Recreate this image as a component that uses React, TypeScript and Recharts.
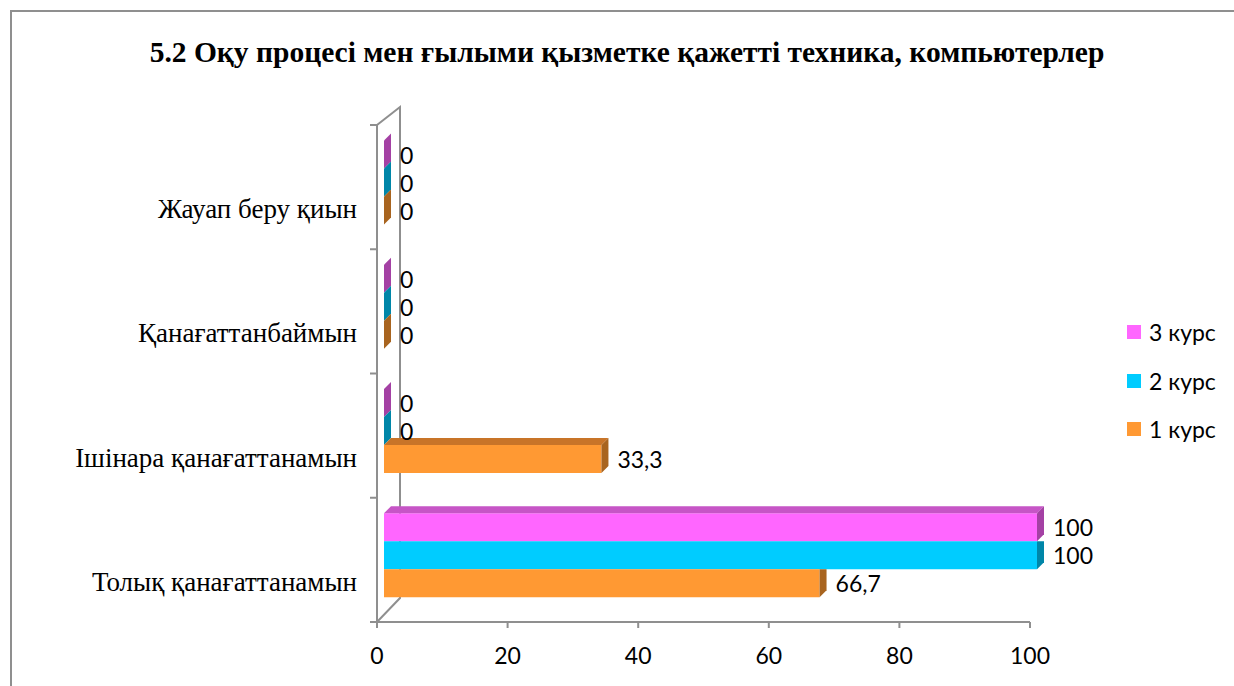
import { BarChart, Bar, XAxis, YAxis, LabelList, Customized } from 'recharts';

const categories = ['Жауап беру қиын', 'Қанағаттанбаймын', 'Ішінара қанағаттанамын', 'Толық қанағаттанамын'];
const kurs1 = [0, 0, 33.3, 66.7];
const kurs2 = [0, 0, 0, 100];
const kurs3 = [0, 0, 0, 100];
const xTicks = [0, 20, 40, 60, 80, 100];

const data = categories.map((name, i) => ({ name, k1: kurs1[i], k2: kurs2[i], k3: kurs3[i] }));

// top bar first (recharts puts the first series at the top of each band)
const series = [
  { key: 'k3', name: '3 курс', front: '#FF66FF', top: '#C655C6', side: '#A441A4', above: null },
  { key: 'k2', name: '2 курс', front: '#00CCFF', top: '#00A3CC', side: '#0086A8', above: 'k3' },
  { key: 'k1', name: '1 курс', front: '#FF9933', top: '#C87428', side: '#A8641F', above: 'k2' },
];

const W = 1234;
const H = 686;
const PLOT_L = 377;
const PLOT_R = 1030;
const PLOT_T = 125;
const PLOT_B = 622;
const AXIS_GREY = '#8f8f8f';

// 3d offsets
const DX = 7;
const DY = -5;
const D = 7;

const fmt = (v: number) => String(v).replace('.', ',');

function makeShape(s: any) {
  return (props: any) => {
    const { x, y, width, height, payload } = props;
    const value = payload[s.key];
    const w = Math.max(width || 0, 0);
    const fx = x + DX;
    const fy = y + DY;
    const x1 = fx + w;
    const perUnit = value > 0 ? w / value : 0;
    const aboveVal = s.above ? payload[s.above] : null;
    const covered = aboveVal != null && aboveVal >= value;
    const topStart = aboveVal == null ? fx : fx + Math.min(aboveVal * perUnit, w);
    return (
      <g>
        {w > 0 && <rect x={fx} y={fy} width={w} height={height} fill={s.front} />}
        {!covered && x1 - topStart > 0.5 && (
          <polygon
            points={`${topStart},${fy} ${topStart + D},${fy - D} ${x1 + D},${fy - D} ${x1},${fy}`}
            fill={s.top}
          />
        )}
        <polygon
          points={
            covered && value > 0
              ? `${x1},${fy} ${x1 + D},${fy} ${x1 + D},${fy + height - D} ${x1},${fy + height}`
              : `${x1},${fy} ${x1 + D},${fy - D} ${x1 + D},${fy + height - D} ${x1},${fy + height}`
          }
          fill={s.side}
        />
      </g>
    );
  };
}

const ValueLabel = (props: any) => {
  const { x, y, width, height, value } = props;
  return (
    <text
      x={x + Math.max(width || 0, 0) + DX + D + 9}
      y={y + DY + height / 2}
      fontSize={23}
      fontFamily="Lato"
      fill="#000"
      dominantBaseline="central"
    >
      {fmt(value)}
    </text>
  );
};

const CategoryTick = (props: any) => {
  const { x, y, payload } = props;
  return (
    <text x={x} y={y + 22} textAnchor="end" fontSize={27} fontFamily="Liberation Serif" fill="#000" dominantBaseline="central">
      {payload.value}
    </text>
  );
};

const Walls = () => {
  const band = (PLOT_B - PLOT_T) / categories.length;
  const bx = PLOT_L + 23;
  return (
    <g stroke={AXIS_GREY} strokeWidth={2} fill="none">
      <polygon points={`${PLOT_L},${PLOT_T} ${bx},${PLOT_T - 18} ${bx},${PLOT_B - 24} ${PLOT_L},${PLOT_B}`} fill="#fff" />
      {categories.map((_, i) => (
        <line key={i} x1={PLOT_L - 7} x2={PLOT_L} y1={PLOT_T + i * band} y2={PLOT_T + i * band} />
      ))}
      <line x1={PLOT_L - 7} x2={PLOT_L} y1={PLOT_B} y2={PLOT_B} />
    </g>
  );
};

export default function App() {
  return (
    <div style={{ position: 'absolute', left: 0, top: 0, width: W, height: H, background: '#fff', overflow: 'hidden' }}>
      <div
        style={{
          position: 'absolute',
          left: 10,
          top: 10,
          width: W,
          height: H,
          borderLeft: `2px solid ${AXIS_GREY}`,
          borderTop: `2px solid ${AXIS_GREY}`,
        }}
      />
      <div
        style={{
          position: 'absolute',
          left: 0,
          top: 36,
          width: W + 20,
          textAlign: 'center',
          fontFamily: 'Liberation Serif',
          fontWeight: 'bold',
          fontSize: 29.5,
          color: '#000',
        }}
      >
        5.2 Оқу процесі мен ғылыми қызметке қажетті техника, компьютерлер
      </div>
      <div style={{ position: 'absolute', left: 0, top: 0 }}>
        <BarChart
          width={W}
          height={H}
          data={data}
          layout="vertical"
          margin={{ top: PLOT_T, right: W - PLOT_R, bottom: H - PLOT_B - 50, left: 0 }}
          barCategoryGap="16.5%"
          barGap={0}
        >
          <Customized component={Walls} />
          <XAxis
            type="number"
            domain={[0, 100]}
            ticks={xTicks}
            height={50}
            axisLine={{ stroke: AXIS_GREY, strokeWidth: 2 }}
            tickLine={{ stroke: AXIS_GREY, strokeWidth: 2 }}
            tickSize={6}
            tickMargin={20}
            tick={{ fill: '#000', fontSize: 23, fontFamily: 'Lato' }}
            interval={0}
          />
          <YAxis
            type="category"
            dataKey="name"
            width={PLOT_L}
            axisLine={false}
            tickLine={false}
            tickSize={0}
            tickMargin={20}
            tick={<CategoryTick />}
            interval={0}
          />
          {series.map((s) => (
            <Bar key={s.key} dataKey={s.key} name={s.name} fill={s.front} shape={makeShape(s)} isAnimationActive={false}>
              <LabelList dataKey={s.key} content={<ValueLabel />} />
            </Bar>
          ))}
        </BarChart>
      </div>
      <div style={{ position: 'absolute', left: 1127, top: 308 }}>
        {series.map((s) => (
          <div key={s.key} style={{ display: 'flex', alignItems: 'center', height: 48.5, fontFamily: 'Lato', fontSize: 23, color: '#000' }}>
            <span style={{ display: 'inline-block', width: 14, height: 14, background: s.front, marginRight: 8 }} />
            {s.name}
          </div>
        ))}
      </div>
    </div>
  );
}
